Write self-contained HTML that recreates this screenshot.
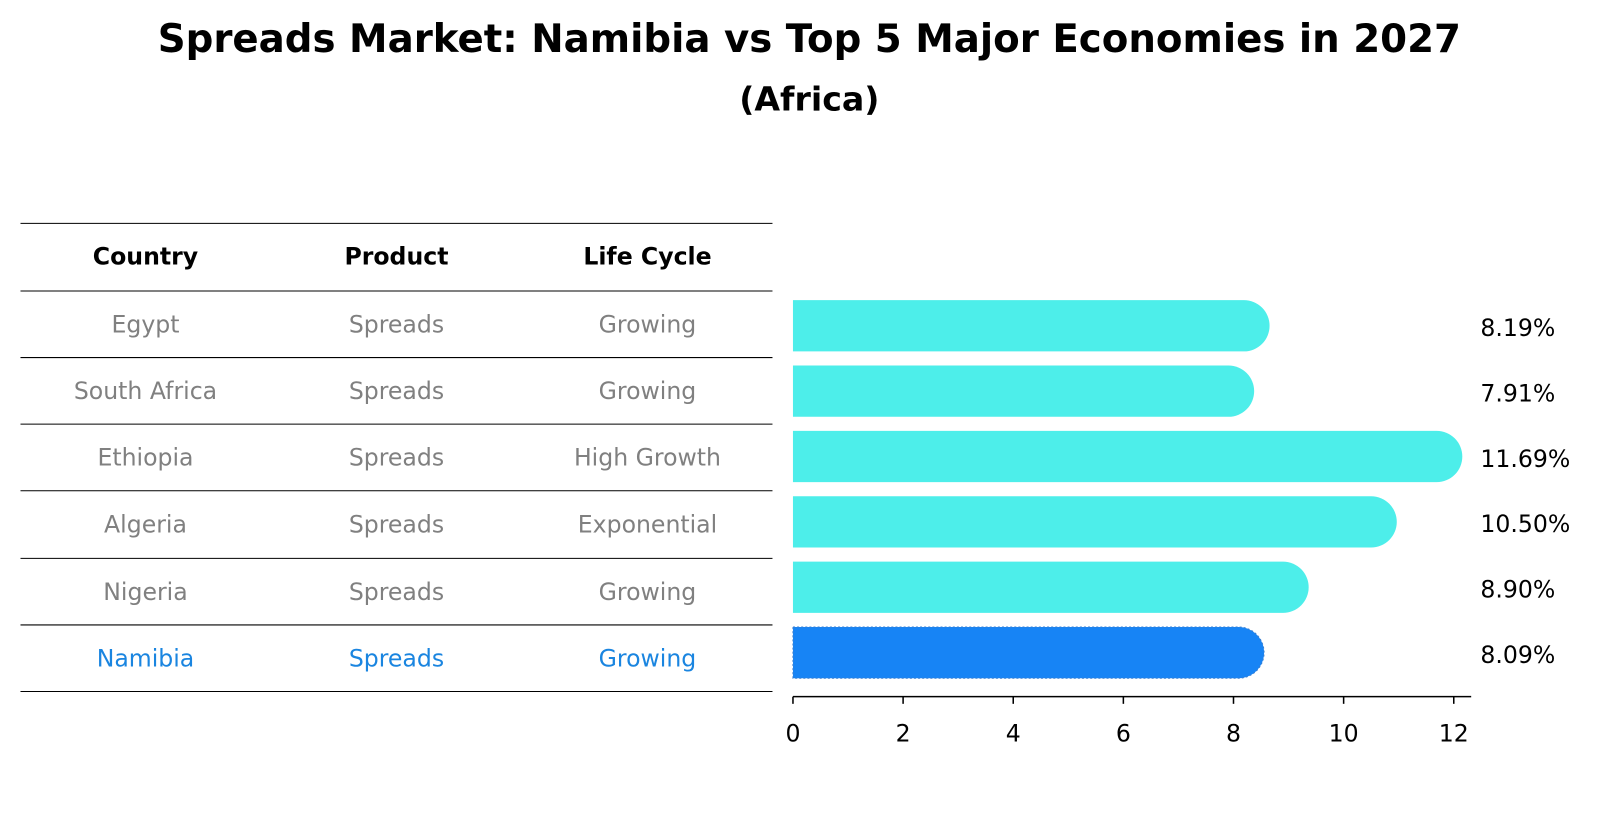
<!DOCTYPE html>
<html><head><meta charset="utf-8"><style>
body{margin:0;background:#fff;font-family:"Liberation Sans","DejaVu Sans",sans-serif;}
</style></head><body>
<svg width="1604" height="823" viewBox="0 0 1604 823" xmlns="http://www.w3.org/2000/svg" font-family="DejaVu Sans, Liberation Sans, sans-serif">
<g transform="scale(1.0245)">
<text x="790" y="51" text-anchor="middle" font-size="37.8" font-weight="bold">Spreads Market: Namibia vs Top 5 Major Economies in 2027</text>
<text x="790" y="108" text-anchor="middle" font-size="32.4" font-weight="bold">(Africa)</text>
<g id="table"></g>
<g id="bars"></g>
</g>
</svg>
<script>
const countries=["Egypt","South Africa","Ethiopia","Algeria","Nigeria","Namibia"];
const products=["Spreads","Spreads","Spreads","Spreads","Spreads","Spreads"];
const stages=["Growing","Growing","High Growth","Exponential","Growing","Growing"];
const values=[8.19,7.91,11.69,10.50,8.90,8.09];
const ticks=[0,2,4,6,8,10,12];
const NS="http://www.w3.org/2000/svg";
function mk(tag,attrs,parent){const e=document.createElementNS(NS,tag);for(const k in attrs)e.setAttribute(k,attrs[k]);parent.appendChild(e);return e;}
const tbl=document.getElementById('table'), bars=document.getElementById('bars');
const FS=27.1;
const lineYs=[218,284,349,414,479,545,610,675];
lineYs.forEach(y=>{const l=mk('line',{x1:20,x2:754,y1:y,y2:y,stroke:'#000','stroke-width':1},tbl);

});
const colX=[142,387,632];
["Country","Product","Life Cycle"].forEach((h,i)=>{const t=mk('text',{x:colX[i],y:258,'text-anchor':'middle','font-size':FS*0.85,'font-weight':'bold'},tbl);t.textContent=h;

});
const x=v=>774+v*53.75;
const rowY=i=>318+i*63.8;
countries.forEach((c,i)=>{
 const col=i===5?'#1a85e0':'#808080';
 [c,products[i],stages[i]].forEach((s,j)=>{const t=mk('text',{x:colX[j],y:(lineYs[i+1]+lineYs[i+2])/2+8,'text-anchor':'middle','font-size':FS*0.85,fill:col},tbl);t.textContent=s;
 
 });
 const cy=rowY(i),h=50,r=25,x0=x(0),x1=x(values[i]);
 const p=mk('path',{d:`M${x0} ${cy-h/2} H${x1} A${r} ${r} 0 0 1 ${x1} ${cy+h/2} H${x0} Z`,fill:i===5?'#1784f5':'#4deeea'},bars);
 if(i===5){p.setAttribute('stroke','#3a7fd0');p.setAttribute('stroke-dasharray','2 2');}
 
 
 const t=mk('text',{x:1445,y:cy+10,'font-size':FS*0.85},bars);t.textContent=values[i].toFixed(2)+'%';
 
 
});
const ax=mk('line',{x1:774,x2:1436,y1:680,y2:680,stroke:'#000','stroke-width':1.5},bars);


ticks.forEach(v=>{const l=mk('line',{x1:x(v),x2:x(v),y1:680,y2:687,stroke:'#000','stroke-width':1.5},bars);


const t=mk('text',{x:x(v),y:724,'text-anchor':'middle','font-size':FS*0.85},bars);t.textContent=v;

});
</script>
</body></html>
